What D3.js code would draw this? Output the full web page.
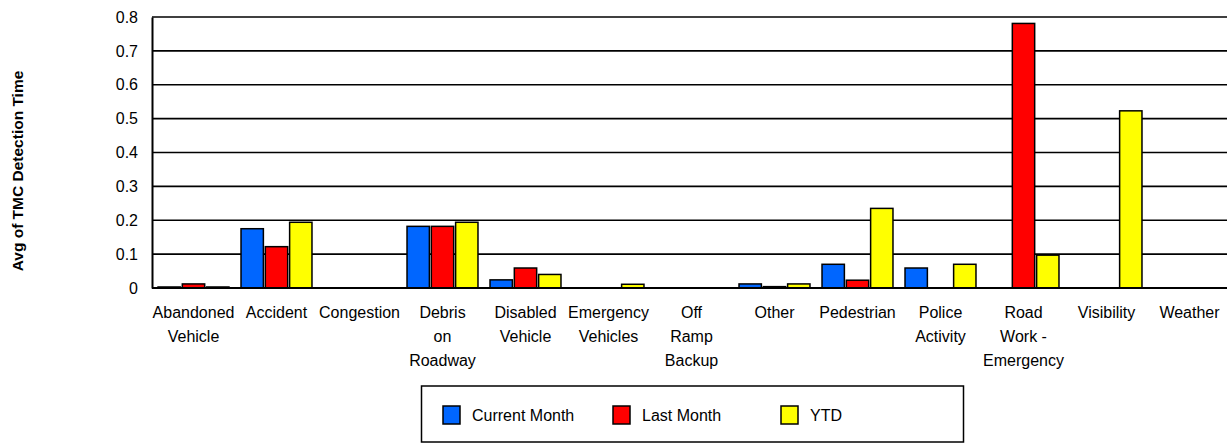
<!DOCTYPE html>
<html>
<head>
<meta charset="utf-8">
<script src="https://cdn.jsdelivr.net/npm/d3@7"></script>
<style>
    body { margin: 0; background: #fff; }
    svg { display: block; font-family: Arial, "Liberation Sans", sans-serif; }
</style>
</head>
<body>
<div id="bar-grafics"></div>
<script>
// Categorias del eje x (cada elemento es una linea de la etiqueta)
var categories = [
    ['Abandoned', 'Vehicle'],
    ['Accident'],
    ['Congestion'],
    ['Debris', 'on', 'Roadway'],
    ['Disabled', 'Vehicle'],
    ['Emergency', 'Vehicles'],
    ['Off', 'Ramp', 'Backup'],
    ['Other'],
    ['Pedestrian'],
    ['Police', 'Activity'],
    ['Road', 'Work -', 'Emergency'],
    ['Visibility'],
    ['Weather']
];

var seriesNames = ['Current Month', 'Last Month', 'YTD'];
var seriesColors = ['#0066ff', '#ff0000', '#ffff00'];

var currentMonth = [0.003, 0.175, 0, 0.182, 0.024, 0, 0, 0.012, 0.070, 0.059, 0, 0, 0];
var lastMonth = [0.012, 0.122, 0, 0.182, 0.059, 0, 0, 0.004, 0.023, 0, 0.781, 0, 0];
var ytd = [0.003, 0.194, 0, 0.194, 0.040, 0.011, 0, 0.012, 0.235, 0.070, 0.097, 0.523, 0];

var yTicks = [0, 0.1, 0.2, 0.3, 0.4, 0.5, 0.6, 0.7, 0.8];
var yTitle = 'Avg of TMC Detection Time';

showBarChart();

function showBarChart() {
    var width = 1227;
    var height = 443;
    var margin = { top: 17, right: -4, bottom: 155, left: 152 };

    var allSeries = [currentMonth, lastMonth, ytd];
    var keys = categories.map(function(c) { return c.join(' '); });

    // Escala x de grupos y escala interna para las series
    var x0 = d3.scaleBand()
        .domain(keys)
        .range([margin.left, width - margin.right])
        .paddingInner(0.145)
        .paddingOuter(0.0725);

    var x1 = d3.scaleBand()
        .domain(seriesNames)
        .range([0, x0.bandwidth()])
        .paddingInner(0.08);

    var y = d3.scaleLinear()
        .domain([0, 0.8])
        .range([height - margin.bottom, margin.top]);

    var svg = d3.select('#bar-grafics').append('svg')
        .attr('width', width)
        .attr('height', height);

    // Lineas de la cuadricula
    svg.append('g')
        .selectAll('line')
        .data(yTicks.slice(1))
        .enter().append('line')
        .attr('x1', margin.left)
        .attr('x2', width - margin.right)
        .attr('y1', function(d) { return y(d); })
        .attr('y2', function(d) { return y(d); })
        .attr('stroke', '#000')
        .attr('stroke-width', 1.6);

    // Eje y
    var yAxis = d3.axisLeft(y)
        .tickValues(yTicks)
        .tickSize(0)
        .tickPadding(14)
        .tickFormat(function(d) { return d === 0 ? '0' : d3.format('.1f')(d); });

    var gy = svg.append('g')
        .attr('transform', 'translate(' + margin.left + ',0)')
        .call(yAxis);
    gy.select('.domain').attr('stroke', '#000').attr('stroke-width', 2);
    gy.selectAll('text')
        .attr('font-size', 16)
        .attr('fill', '#000')
        .attr('font-family', 'Arial, "Liberation Sans", sans-serif');

    // Barras
    var groups = svg.append('g')
        .selectAll('g')
        .data(keys)
        .enter().append('g')
        .attr('transform', function(d) { return 'translate(' + x0(d) + ',0)'; });

    groups.selectAll('rect')
        .data(function(d, i) {
            return seriesNames.map(function(s, j) {
                return { name: s, color: seriesColors[j], value: allSeries[j][i] };
            }).filter(function(e) { return e.value > 0; });
        })
        .enter().append('rect')
        .attr('x', function(d) { return x1(d.name); })
        .attr('y', function(d) { return y(d.value); })
        .attr('width', x1.bandwidth())
        .attr('height', function(d) { return y(0) - y(d.value); })
        .attr('fill', function(d) { return d.color; })
        .attr('stroke', '#000')
        .attr('stroke-width', 1.5);

    // Eje x (linea base)
    svg.append('line')
        .attr('x1', margin.left)
        .attr('x2', width - margin.right)
        .attr('y1', y(0))
        .attr('y2', y(0))
        .attr('stroke', '#000')
        .attr('stroke-width', 2);

    // Etiquetas de las categorias
    var labels = svg.append('g')
        .selectAll('text')
        .data(categories)
        .enter().append('text')
        .attr('text-anchor', 'middle')
        .attr('font-size', 16)
        .attr('fill', '#000')
        .attr('transform', function(d, i) {
            return 'translate(' + (x0(keys[i]) + x0.bandwidth() / 2) + ',' + (y(0) + 30) + ')';
        });

    labels.selectAll('tspan')
        .data(function(d) { return d; })
        .enter().append('tspan')
        .attr('x', 0)
        .attr('y', function(d, i) { return i * 24; })
        .text(function(d) { return d; });

    // Titulo del eje y
    svg.append('text')
        .attr('transform', 'translate(23,171) rotate(-90)')
        .attr('text-anchor', 'middle')
        .attr('font-size', 15.5)
        .attr('font-weight', 'bold')
        .attr('fill', '#000')
        .text(yTitle);

    // Leyenda
    var legend = svg.append('g');

    legend.append('rect')
        .attr('x', 421.5)
        .attr('y', 386)
        .attr('width', 542)
        .attr('height', 56)
        .attr('fill', 'none')
        .attr('stroke', '#000')
        .attr('stroke-width', 1.5);

    var legendX = [443, 613, 781];

    var items = legend.selectAll('g')
        .data(seriesNames)
        .enter().append('g')
        .attr('transform', function(d, i) { return 'translate(' + legendX[i] + ',406)'; });

    items.append('rect')
        .attr('width', 17)
        .attr('height', 18)
        .attr('fill', function(d, i) { return seriesColors[i]; })
        .attr('stroke', '#000')
        .attr('stroke-width', 1.5);

    items.append('text')
        .attr('x', 29)
        .attr('y', 15)
        .attr('font-size', 16)
        .attr('fill', '#000')
        .text(function(d) { return d; });
}
</script>
</body>
</html>
